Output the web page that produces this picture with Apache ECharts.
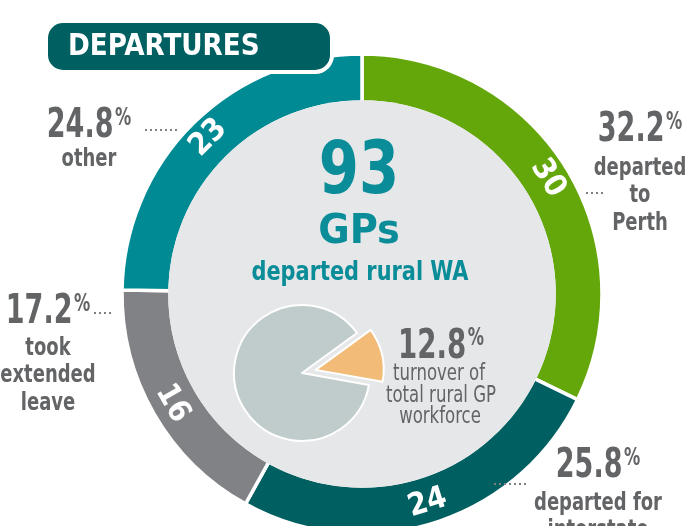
<!DOCTYPE html>
<html>
<head>
<meta charset="utf-8">
<script src="https://cdn.jsdelivr.net/npm/echarts@6/dist/echarts.min.js"></script>
<style>
  html, body { margin: 0; padding: 0; background: #fff; }
  #chart { width: 689px; height: 526px; }
</style>
</head>
<body>
<div id="chart"></div>
<script>
// departures, clockwise from the top
const categories = ['departed to Perth', 'departed for interstate', 'took extended leave', 'other']
const departures = [30, 24, 16, 23]
const shares = ['32.2', '25.8', '17.2', '24.8']
const totalGPs = 93
// turnover pie
const turnoverNames = ['turnover', 'remaining']
const turnover = [12.8, 87.2]

const ringColors = ['#64a70b', '#005f60', '#808285', '#008a94']
const FONT = '"Liberation Sans Narrow", "DejaVu Sans Condensed", "Open Sans", sans-serif'
const GREY = '#636466'
const TEAL = '#0a8d98'

const cx = 362
const cy = 294

// number with small raised percent sign
function pctNumber (x, y, value, size) {
  return {
    type: 'text',
    x: x,
    y: y,
    z: 50,
    scaleX: 0.75,
    style: {
      text: '{n|' + value + '}{p|%}',
      align: 'center',
      verticalAlign: 'middle',
      rich: {
        n: { fontFamily: FONT, fontSize: size, fontWeight: 'bold', fill: GREY },
        p: { fontFamily: FONT, fontSize: 24, fontWeight: 'bold', fill: GREY, padding: [0, 0, 16, 2] }
      }
    }
  }
}

function line (x, y, str, size, weight, sx) {
  return {
    type: 'text',
    x: x,
    y: y,
    z: 50,
    scaleX: sx,
    style: { text: str, fill: GREY, fontFamily: FONT, fontSize: size, fontWeight: weight, align: 'center', verticalAlign: 'middle' }
  }
}

// side label: number then lines of text centred under it
function sideLabel (x, numY, value, lines, lineY) {
  let out = [pctNumber(x, numY, value, 40)]
  lines.forEach((l, i) => out.push(line(x, lineY + i * 27.5, l, 25, 'bold', 0.8)))
  return out
}

function dots (x1, y1, x2) {
  return {
    type: 'line',
    z: 50,
    shape: { x1: x1, y1: y1, x2: x2, y2: y1 },
    style: { stroke: '#7d7f82', lineWidth: 2, lineDash: [2, 3] }
  }
}

let myChart = echarts.init(document.getElementById('chart'))
myChart.setOption({
  backgroundColor: '#fff',
  animation: false,
  series: [
    {
      name: 'departures',
      type: 'pie',
      center: [cx, cy],
      radius: [192, 240],
      startAngle: 90,
      clockwise: true,
      silent: true,
      z: 2,
      itemStyle: { borderColor: '#fff', borderWidth: 3.5 },
      label: {
        show: true,
        position: 'inside',
        rotate: 'tangential',
        formatter: '{c}',
        color: '#fff',
        fontFamily: FONT,
        fontSize: 31,
        fontWeight: 'bold'
      },
      labelLine: { show: false },
      data: categories.map((c, i) => ({ name: c, value: departures[i], itemStyle: { color: ringColors[i] } }))
    },
    {
      name: 'turnover',
      type: 'pie',
      center: [302, 373],
      radius: [0, 68],
      startAngle: 36,
      clockwise: true,
      silent: true,
      z: 5,
      selectedMode: 'single',
      selectedOffset: 14,
      itemStyle: { borderColor: '#fff', borderWidth: 2 },
      label: { show: false },
      labelLine: { show: false },
      data: turnoverNames.map((n, i) => ({
        name: n,
        value: turnover[i],
        selected: i === 0,
        itemStyle: { color: i === 0 ? '#f2bb77' : '#c0cbcb' }
      }))
    }
  ],
  graphic: [
    // inner disk
    { type: 'circle', z: 3, shape: { cx: cx, cy: cy, r: 193.8 }, style: { fill: '#e6e7e8' } },
    // title box
    {
      type: 'rect', z: 60,
      shape: { x: 46, y: 21, width: 286, height: 51, r: 17 },
      style: { fill: '#005f60', stroke: '#fff', lineWidth: 4 }
    },
    {
      type: 'text', z: 61, x: 68, y: 47, scaleX: 0.94,
      style: { text: 'DEPARTURES', fill: '#fff', fontFamily: FONT, fontSize: 31, fontWeight: 'bold', verticalAlign: 'middle' }
    },
    // centre text
    {
      type: 'text', z: 50, x: 359, y: 174, scaleX: 0.88,
      style: { text: String(totalGPs), fill: TEAL, fontFamily: FONT, fontSize: 73, fontWeight: 'bold', align: 'center', verticalAlign: 'middle' }
    },
    {
      type: 'text', z: 50, x: 359, y: 232, scaleX: 1.04,
      style: { text: 'GPs', fill: TEAL, fontFamily: FONT, fontSize: 41, fontWeight: 'bold', align: 'center', verticalAlign: 'middle' }
    },
    {
      type: 'text', z: 50, x: 360, y: 273, scaleX: 0.86,
      style: { text: 'departed rural WA', fill: TEAL, fontFamily: FONT, fontSize: 27, fontWeight: 'bold', align: 'center', verticalAlign: 'middle' }
    },
    // turnover text
    pctNumber(441, 347, turnover[0], 41),
    line(439, 374, 'turnover of', 23, 'normal', 0.8),
    line(441, 396, 'total rural GP', 23, 'normal', 0.8),
    line(440, 417, 'workforce', 23, 'normal', 0.8),
    // side labels
    ...sideLabel(89, 127, shares[3], ['other'], 159),
    dots(145, 130, 178),
    ...sideLabel(640, 131, shares[0], ['departed', 'to', 'Perth'], 168),
    dots(586, 193, 603),
    ...sideLabel(48, 313, shares[2], ['took', 'extended', 'leave'], 348),
    dots(94, 313, 112),
    ...sideLabel(598, 467, shares[1], ['departed for', 'interstate'], 503),
    dots(494, 484, 527)
  ]
})
</script>
</body>
</html>
